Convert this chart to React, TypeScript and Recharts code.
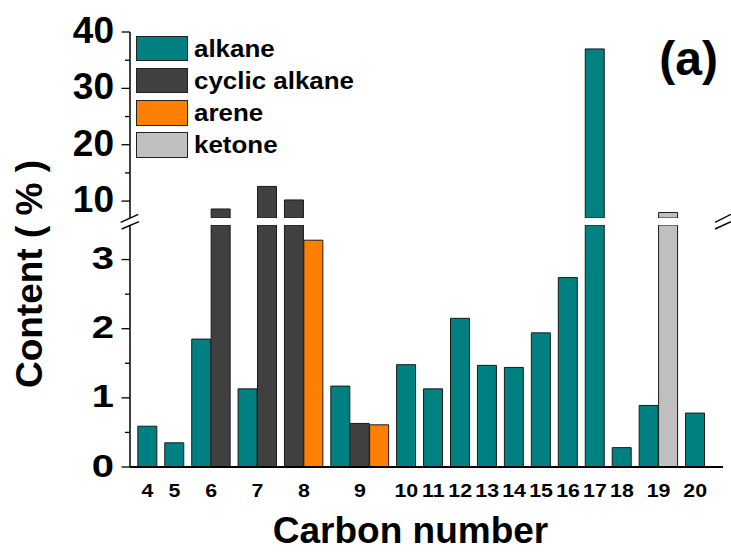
import React from 'react';
import { BarChart, Bar, XAxis, YAxis, Legend } from 'recharts';

// ---------- data ----------
const carbonNumbers = [4, 5, 6, 7, 8, 9, 10, 11, 12, 13, 14, 15, 16, 17, 18, 19, 20];
const alkane = [0.59, 0.35, 1.85, 1.13, null, 1.17, 1.48, 1.13, 2.15, 1.47, 1.44, 1.94, 2.74, 37.0, 0.28, 0.89, 0.78];
const cyclicAlkane = [null, null, 8.6, 12.6, 10.2, 0.63, null, null, null, null, null, null, null, null, null, null, null];
const arene = [null, null, null, null, 3.28, 0.61, null, null, null, null, null, null, null, null, null, null, null];
const ketone = [null, null, null, null, null, null, null, null, null, null, null, null, null, null, null, 7.98, null];

const upperTicks = [10, 15, 20, 25, 30, 35, 40];
const lowerTicks = [0, 0.5, 1, 1.5, 2, 2.5, 3];
const seriesNames = ['alkane', 'cyclic alkane', 'arene', 'ketone'];

// ---------- styling / layout ----------
const FONT = "'Liberation Sans', Arial, Helvetica, sans-serif";
const seriesDefs = [
  { key: 'alkane', name: seriesNames[0], values: alkane, color: '#008080' },
  { key: 'cyclic', name: seriesNames[1], values: cyclicAlkane, color: '#404040' },
  { key: 'arene', name: seriesNames[2], values: arene, color: '#FF8000' },
  { key: 'ketone', name: seriesNames[3], values: ketone, color: '#C0C0C0' },
];
const X_DOMAIN: [number, number] = [0, 22];
const START = 0.65;
const GROUP_STEP = 1;
const BAR_STEP = 0.72;

// build bar rows (one per bar) and group centres from the data arrays
const rows: any[] = [];
const groupCenters: number[] = [];
let extra = 0;
carbonNumbers.forEach((c, g) => {
  const present = seriesDefs.filter((s) => s.values[g] != null);
  const first = START + g * GROUP_STEP + extra * BAR_STEP;
  present.forEach((s, j) => {
    rows.push({ pos: first + j * BAR_STEP, carbon: c, [s.key]: s.values[g] });
  });
  groupCenters.push(first + ((present.length - 1) * BAR_STEP) / 2);
  extra += present.length - 1;
});
const topTicks = Array.from({ length: 21 }, (_, i) => i + 1);

const makeLeftTick = (isMajor: (v: number) => boolean, fontSize: number, sx: number, dy: number) => (props: any) => {
  const { x, y, payload } = props;
  const v = payload.value;
  const major = isMajor(v);
  return (
    <g>
      <line x1={x - (major ? 8.5 : 5)} x2={x} y1={y} y2={y} stroke="#000" strokeWidth={1.3} />
      {major && (
        <text
          transform={`translate(${x - 16},${y + dy}) scale(${sx},1)`}
          textAnchor="end"
          fontSize={fontSize}
          fontWeight="bold"
          fontFamily={FONT}
          fill="#000"
        >
          {v}
        </text>
      )}
    </g>
  );
};

const rightTick = (props: any) => {
  const { x, y } = props;
  return <line x1={x - 3} x2={x} y1={y} y2={y} stroke="#444" strokeWidth={1} />;
};

const topTick = (props: any) => {
  const { x, y } = props;
  return <line x1={x} x2={x} y1={y} y2={y + 3} stroke="#555" strokeWidth={1} />;
};

const bottomTick = (props: any) => {
  const { x, y, index } = props;
  return (
    <text
      transform={`translate(${x},${y + 30}) scale(1.22,1)`}
      textAnchor="middle"
      fontSize={17.5}
      fontWeight="bold"
      fontFamily={FONT}
      fill="#000"
    >
      {carbonNumbers[index]}
    </text>
  );
};

const renderLegend = (props: any) => {
  const payload = [...(props.payload || [])].sort(
    (a: any, b: any) => seriesNames.indexOf(a.value) - seriesNames.indexOf(b.value)
  );
  return (
    <div>
      {payload.map((entry: any) => (
        <div key={entry.value} style={{ display: 'flex', alignItems: 'center', height: 25.5, marginBottom: 6.7 }}>
          <div
            style={{
              width: 52,
              height: 25.5,
              boxSizing: 'border-box',
              background: entry.color,
              border: '1.3px solid #222',
            }}
          />
          <span
            style={{
              marginLeft: 6,
              fontSize: 24,
              fontWeight: 'bold',
              fontFamily: FONT,
              display: 'inline-block',
              transform: 'scaleX(1.08)',
              transformOrigin: 'left center',
              lineHeight: '25.5px',
              whiteSpace: 'nowrap',
              color: '#000',
            }}
          >
            {entry.value}
          </span>
        </div>
      ))}
    </div>
  );
};

const bars = seriesDefs.map((s) => (
  <Bar
    key={s.key}
    dataKey={s.key}
    name={s.name}
    stackId="s"
    fill={s.color}
    stroke="#1a1a1a"
    strokeWidth={1}
    barSize={19}
    isAnimationActive={false}
  />
));

export default function App() {
  return (
    <div style={{ position: 'absolute', left: 0, top: 0, width: 731, height: 552, background: '#fff' }}>
      {/* upper panel */}
      <div style={{ position: 'absolute', left: 0, top: 0 }}>
        <BarChart width={731} height={219} data={rows} margin={{ top: 32, right: 8, bottom: 1, left: 0 }}>
          <XAxis dataKey="pos" type="number" domain={X_DOMAIN} hide height={0} allowDataOverflow />
          <XAxis
            xAxisId="top"
            orientation="top"
            type="number"
            domain={X_DOMAIN}
            ticks={topTicks}
            interval={0}
            height={0}
            tickSize={0}
            tickMargin={0}
            tickLine={false}
            tick={topTick}
            axisLine={{ stroke: '#333', strokeWidth: 1 }}
            allowDataOverflow
          />
          <YAxis
            width={130}
            type="number"
            domain={[7, 40]}
            ticks={upperTicks}
            interval={0}
            allowDataOverflow
            tickSize={0}
            tickMargin={0}
            tickLine={false}
            tick={makeLeftTick((v) => v % 10 === 0, 37, 1, 11)}
            axisLine={{ stroke: '#000', strokeWidth: 1.5 }}
          />
          <YAxis
            yAxisId="r"
            orientation="right"
            width={0}
            type="number"
            domain={[7, 40]}
            ticks={upperTicks}
            interval={0}
            allowDataOverflow
            tickSize={0}
            tickMargin={0}
            tickLine={false}
            tick={rightTick}
            axisLine={{ stroke: '#000', strokeWidth: 1.5 }}
          />
          <Legend
            layout="horizontal"
            verticalAlign="middle"
            align="center"
            content={renderLegend}
            wrapperStyle={{ left: 136, top: 35.7, width: 'auto', height: 'auto' }}
          />
          {bars}
        </BarChart>
      </div>

      {/* lower panel */}
      <div style={{ position: 'absolute', left: 0, top: 219 }}>
        <BarChart width={731} height={333} data={rows} margin={{ top: 6, right: 8, bottom: 0, left: 0 }}>
          <XAxis
            dataKey="pos"
            type="number"
            domain={X_DOMAIN}
            ticks={groupCenters}
            interval={0}
            height={85}
            tickSize={0}
            tickMargin={0}
            tickLine={false}
            tick={bottomTick}
            axisLine={{ stroke: '#000', strokeWidth: 2 }}
            allowDataOverflow
            label={{
              content: (p: any) => {
                const vb = p.viewBox || {};
                return (
                  <text
                    x={vb.x + vb.width / 2 - 16}
                    y={vb.y + vb.height - 9}
                    textAnchor="middle"
                    fontSize={37}
                    fontWeight="bold"
                    fontFamily={FONT}
                    fill="#000"
                  >
                    Carbon number
                  </text>
                );
              },
            }}
          />
          <YAxis
            width={130}
            type="number"
            domain={[0, 3.5]}
            ticks={lowerTicks}
            interval={0}
            allowDataOverflow
            tickSize={0}
            tickMargin={0}
            tickLine={false}
            tick={makeLeftTick((v) => Number.isInteger(v), 32, 1.25, 9.6)}
            axisLine={{ stroke: '#000', strokeWidth: 1.5 }}
          />
          <YAxis
            yAxisId="r"
            orientation="right"
            width={0}
            type="number"
            domain={[0, 3.5]}
            ticks={lowerTicks}
            interval={0}
            allowDataOverflow
            tickSize={0}
            tickMargin={0}
            tickLine={false}
            tick={rightTick}
            axisLine={{ stroke: '#000', strokeWidth: 1.5 }}
          />
          {bars}
        </BarChart>
      </div>

      {/* overlay: axis break marks, y title, panel label */}
      <svg
        width={731}
        height={552}
        style={{ position: 'absolute', left: 0, top: 0, pointerEvents: 'none' }}
      >
        <g stroke="#000" strokeWidth={1.4}>
          <line x1={120.7} y1={222.3} x2={138.3} y2={214.3} />
          <line x1={121.7} y1={229} x2={139} y2={221.7} />
          <line x1={715} y1={222.3} x2={731} y2={214.3} />
          <line x1={715} y1={229} x2={731} y2={221.7} />
        </g>
        <text
          transform="translate(41.5,274) rotate(-90)"
          textAnchor="middle"
          fontSize={37}
          fontWeight="bold"
          fontFamily={FONT}
          fill="#000"
        >
          Content ( % )
        </text>
        <text x={718} y={75} textAnchor="end" fontSize={48} fontWeight="bold" fontFamily={FONT} fill="#000">
          (a)
        </text>
      </svg>
    </div>
  );
}
